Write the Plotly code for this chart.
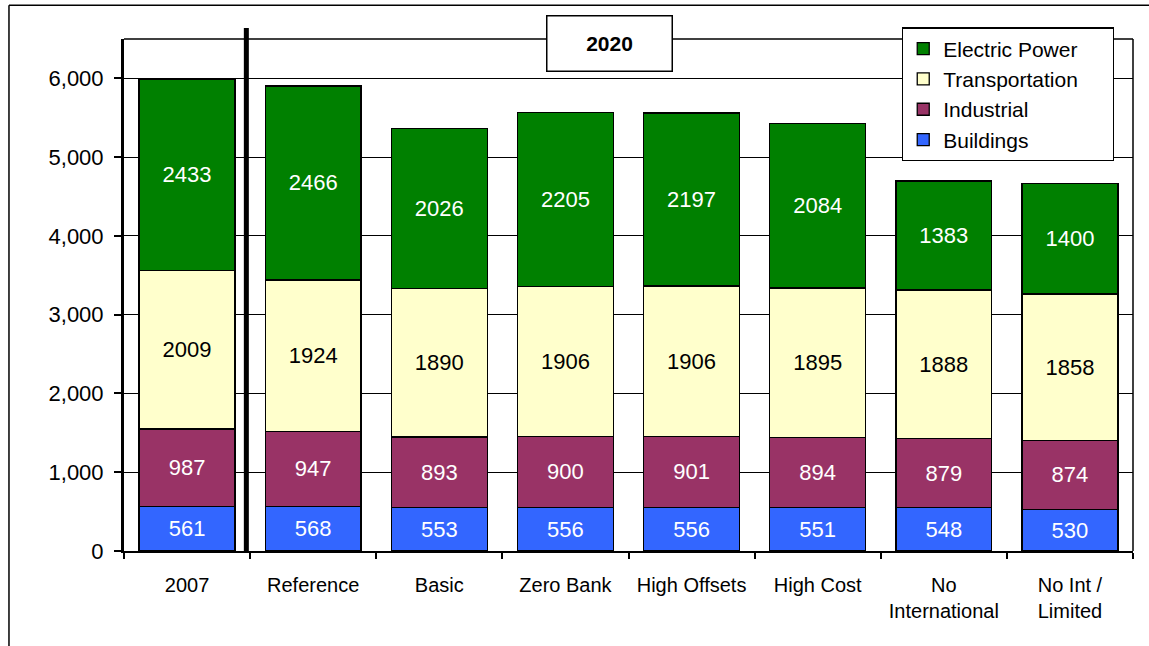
import plotly.graph_objects as go

# ── data ─────────────────────────────────────────────────────
SCENARIOS = ["2007", "Reference", "Basic", "Zero Bank", "High Offsets",
             "High Cost", "No<br>International", "No Int /<br>Limited"]
BUILDINGS = [561, 568, 553, 556, 556, 551, 548, 530]
INDUSTRIAL = [987, 947, 893, 900, 901, 894, 879, 874]
TRANSPORTATION = [2009, 1924, 1890, 1906, 1906, 1895, 1888, 1858]
ELECTRIC_POWER = [2433, 2466, 2026, 2205, 2197, 2084, 1383, 1400]

SERIES = [
    ("Buildings", BUILDINGS, "#3366FF", "white"),
    ("Industrial", INDUSTRIAL, "#993366", "white"),
    ("Transportation", TRANSPORTATION, "#FFFFCC", "black"),
    ("Electric Power", ELECTRIC_POWER, "#008000", "white"),
]

FONT = "Arial, Liberation Sans, sans-serif"
PAD = "\u00a0" * 5  # extra room on the right of the legend box

fig = go.Figure()

for name, vals, color, tcolor in SERIES:
    fig.add_trace(go.Bar(
        x=SCENARIOS, y=vals, name=name + PAD, legendgroup=name,
        marker=dict(color=color, line=dict(color="black", width=1.3)),
        text=vals, texttemplate="%{text}",
        textposition="inside", insidetextanchor="middle", textangle=0,
        textfont=dict(family=FONT, size=22, color=tcolor),
        constraintext="none",
        hovertemplate=f"{name}: %{{y}}<extra></extra>",
    ))

# ── layout ───────────────────────────────────────────────────
fig.update_layout(
    width=1149, height=646,
    barmode="stack", bargap=0.24,
    paper_bgcolor="white", plot_bgcolor="white",
    font=dict(family=FONT, color="black"),
    margin=dict(l=124, r=16, t=39, b=95),
    showlegend=True,
    legend=dict(
        traceorder="reversed", tracegroupgap=15,
        x=0.771, y=1.023, xanchor="left", yanchor="top",
        bgcolor="white", bordercolor="black", borderwidth=1.3,
        font=dict(family=FONT, size=21, color="black"),
        itemwidth=30,
    ),
)

fig.update_yaxes(
    range=[0, 6500], tickvals=[0, 1000, 2000, 3000, 4000, 5000, 6000],
    tickformat=",d",
    showgrid=True, gridcolor="black", gridwidth=1.3,
    showline=True, linecolor="black", linewidth=3,
    ticks="outside", ticklen=7, tickwidth=2, tickcolor="black",
    tickfont=dict(family=FONT, size=22, color="black"),
    ticklabelstandoff=6,
    zeroline=False,
)
fig.update_xaxes(
    type="category", tickson="boundaries",
    showgrid=False,
    showline=True, linecolor="black", linewidth=2,
    ticks="outside", ticklen=6, tickwidth=2, tickcolor="black",
    tickfont=dict(family=FONT, size=20, color="black"),
    ticklabelstandoff=15,
)

# plot-area frame (top / right), separator line, outer chart border
fig.add_shape(type="line", xref="paper", yref="paper", x0=0, x1=1, y0=1, y1=1,
              line=dict(color="black", width=1.5))
fig.add_shape(type="line", xref="paper", yref="paper", x0=1, x1=1, y0=0, y1=1,
              line=dict(color="black", width=1.5))
fig.add_shape(type="line", xref="x", yref="paper", x0=0.47, x1=0.47, y0=0, y1=1.0215,
              line=dict(color="black", width=5))
fig.add_shape(type="line", xref="paper", yref="paper", x0=-0.114, x1=1.02, y0=1.066, y1=1.066,
              line=dict(color="black", width=1.5))
fig.add_shape(type="line", xref="paper", yref="paper", x0=-0.114, x1=-0.114, y0=1.066, y1=-0.2,
              line=dict(color="black", width=1.5))

fig.add_annotation(
    text="<b>2020</b>", xref="paper", yref="paper", x=0.481, y=0.992,
    xanchor="center", yanchor="middle",
    showarrow=False, width=122, height=52,
    bgcolor="white", bordercolor="black", borderwidth=1.5,
    font=dict(family=FONT, size=21, color="black"),
)

fig.write_html("out.html", config={"displayModeBar": False},
               post_script="document.body.style.margin='0';")
